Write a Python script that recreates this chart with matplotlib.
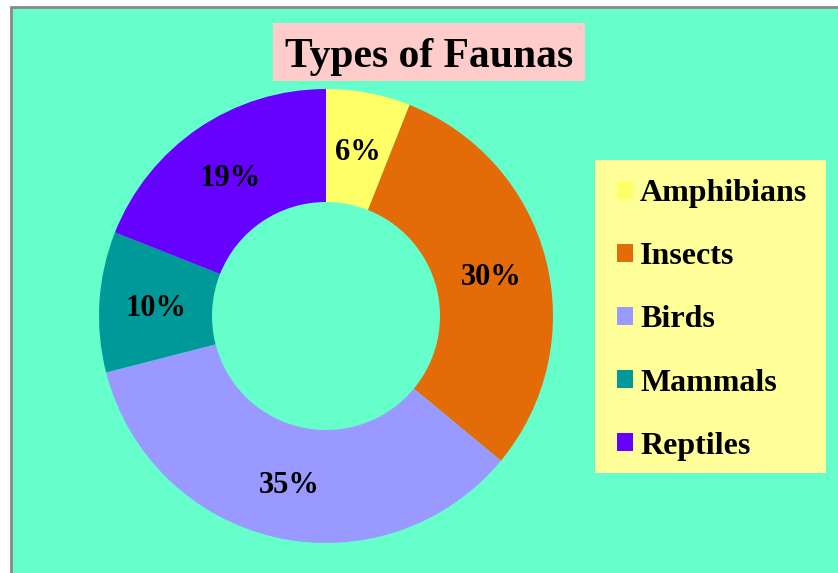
import numpy as np
import matplotlib
matplotlib.use('Agg')
import matplotlib.pyplot as plt
from matplotlib.patches import Rectangle

# data
labels = ['Amphibians', 'Insects', 'Birds', 'Mammals', 'Reptiles']
shares = [6, 30, 35, 10, 19]
colors = ['#FFFF66', '#E36C09', '#9999FF', '#009999', '#6600FF']
title = 'Types of Faunas'

plt.rcParams['font.family'] = ['Liberation Serif', 'DejaVu Serif']
plt.rcParams['font.weight'] = 'bold'

W, H = 838, 573
fig = plt.figure(figsize=(W / 100, H / 100), dpi=100, facecolor='white')
ax = fig.add_axes([0, 0, 1, 1])

# chart area with grey border
ax.add_patch(Rectangle((11, -5), W, H - 6 - 1 + 5, facecolor='#66FFCC',
                       edgecolor='#888888', linewidth=2, zorder=0))

# donut
wedges, texts, autotexts = ax.pie(
    shares, colors=colors, startangle=90, counterclock=False,
    center=(326, H - 316), radius=227, autopct='%1.0f%%', pctdistance=0.75,
    wedgeprops=dict(width=113, linewidth=0),
    textprops=dict(fontsize=22, fontweight='bold', color='black'))
for t in autotexts:
    t.set_va('center_baseline')

# title
ax.add_patch(Rectangle((273, H - 81), 312, 58, facecolor='#FFCCCC',
                       edgecolor='none', zorder=3))
ax.text(429, H - 53, title, ha='center', va='center_baseline', fontsize=30,
        fontweight='bold', zorder=4)

# legend box
ax.add_patch(Rectangle((595, H - 473), 231, 313, facecolor='#FFFF99',
                       edgecolor='none', zorder=3))
leg = ax.legend(wedges, labels, loc='upper left',
                bbox_to_anchor=(617 / W, 1 - 179 / H), bbox_transform=fig.transFigure,
                frameon=False, borderpad=0, borderaxespad=0,
                handlelength=0.5, handleheight=0.5, handletextpad=0.22,
                labelspacing=1.07, prop=dict(size=23, weight='bold'))
leg.set_zorder(5)

ax.set_xlim(0, W)
ax.set_ylim(0, H)
ax.set_aspect('equal')
ax.axis('off')

fig.savefig('out.png', dpi=100, facecolor='white')
